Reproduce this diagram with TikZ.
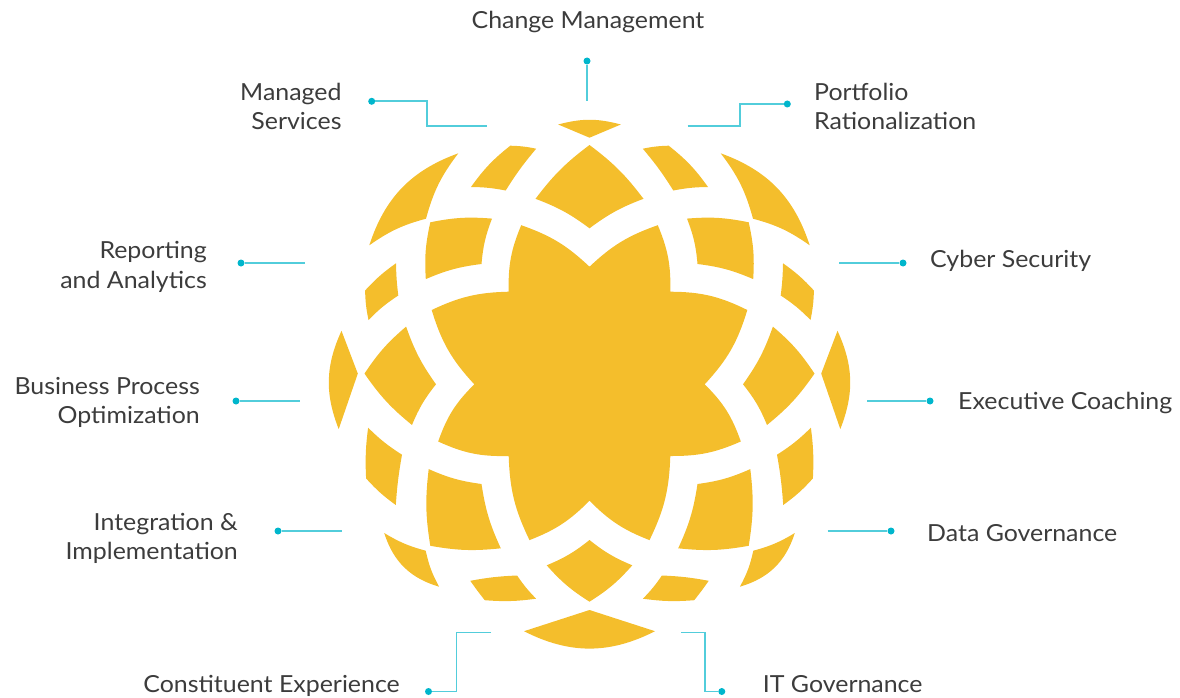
\documentclass[tikz,border=0pt]{standalone}
\usepackage{fontspec}
\setmainfont{Lato}[FakeStretch=1.06]
\definecolor{gold}{RGB}{244,190,44}
\definecolor{linec}{RGB}{82,205,219}
\definecolor{dotc}{RGB}{0,182,204}
\definecolor{txt}{RGB}{60,60,60}
\newcommand\sx{1}
\newcommand\halfpieces{%
  % outer quad near top
  \fill[gold] (\sx*-79.2,-238.1) to[cvx=5] (\sx*-53.3,-235.1) to[ccv=4] (\sx*-83.8,-193.3)
     to[ccv=5] (\sx*-118.5,-196.8) to[cvx=8] (\sx*-79.2,-238.1) -- cycle;
  % big lens upper
  \fill[gold] (\sx*-131.2,-230.5) to[ccv=11] (\sx*-163.5,-165.1) to[ccv=10] (\sx*-220.2,-138.5)
     to[cvx=26] (\sx*-131.2,-230.5) -- cycle;
  % diagonal quad upper (ring 2)
  \fill[gold] (\sx*-159.2,-161.5) to[cvx=8] (\sx*-97.5,-165.2) to[ccv=8] (\sx*-108,-119.8)
     to[ccv=8] (\sx*-163.7,-104.7) to[cvx=8] (\sx*-159.2,-161.5) -- cycle;
  % outer quad side upper
  \fill[gold] (\sx*-224.4,-93.3) to[cvx=6] (\sx*-193.5,-120.5) to[ccv=3] (\sx*-191.2,-88.3)
     to[ccv=6] (\sx*-221,-63.8) to[cvx=5] (\sx*-224.4,-93.3) -- cycle;
  % side cap
  \fill[gold] (\sx*-248,-53) -- (\sx*-231.7,-10.2) -- (\sx*-250.8,45.3)
     to[cvx=23] (\sx*-248,-53) -- cycle;
  % side diamond
  \fill[gold] (\sx*-183.4,-57.2) to[ccv=8] (\sx*-153.5,0.5) to[ccv=8] (\sx*-177.5,41.2)
     to[cvx=8] (\sx*-225,-10.2) to[cvx=8] (\sx*-183.4,-57.2) -- cycle;
  % outer quad side lower
  \fill[gold] (\sx*-221.4,43.9) to[ccv=6] (\sx*-187.5,70.9) to[ccv=3] (\sx*-193.7,121.2)
     to[cvx=6] (\sx*-223.4,94.6) to[cvx=5] (\sx*-221.4,43.9) -- cycle;
  % diagonal quad lower (ring 2)
  \fill[gold] (\sx*-160.8,85.3) to[ccv=8] (\sx*-108,100.2) to[ccv=8] (\sx*-88.7,164.5)
     to[cvx=8] (\sx*-159.2,162) to[cvx=8] (\sx*-160.8,85.3) -- cycle;
  % big lens lower
  \fill[gold] (\sx*-205.3,149.2) to[ccv=8] (\sx*-163.8,166.9) to[ccv=8] (\sx*-150.4,202.9)
     to[cvx=28] (\sx*-205.3,149.2) -- cycle;
  % outer quad near bottom
  \fill[gold] (\sx*-119.2,197) to[cvx=4] (\sx*-72.4,191.7) to[ccv=5] (\sx*-53.4,214.9)
     to[cvx=6] (\sx*-104.7,216.4) to[cvx=2] (\sx*-119.2,197) -- cycle;
}
\begin{document}
\begin{tikzpicture}[x=1pt,y=-1pt,
  cvx/.style={bend left=#1}, ccv/.style={bend right=#1},
  lbl/.style={inner sep=0pt, text=txt, font=\fontsize{23.5}{28}\selectfont},
  dot/.style={circle, fill=dotc, inner sep=0pt, minimum size=7pt},
  conn/.style={draw=linec, line width=1.6pt}]
\path[use as bounding box] (0,0) rectangle (1180,698);

% ---------- rosette ----------
\begin{scope}[shift={(589.5,383.8)}]
  \halfpieces
  \begin{scope}[cvx/.style={bend right=#1}, ccv/.style={bend left=#1}]
    \renewcommand\sx{-1}
    \halfpieces
  \end{scope}
  % top cap
  \fill[gold] (-31.3,-259.3) -- (0,-246.1) -- (31.3,-259.3) to[bend right=15] (-31.3,-259.3) -- cycle;
  % top diamond
  \fill[gold] (0,-238.8) to[cvx=8] (54,-185) to[ccv=8] (0,-155.5) to[ccv=8] (-54,-185)
     to[cvx=8] (0,-238.8) -- cycle;
  % bottom diamond
  \fill[gold] (0,156.2) to[ccv=8] (42.8,181.5) to[cvx=8] (0,217.9) to[cvx=8] (-42.8,181.5)
     to[ccv=8] (0,156.2) -- cycle;
  % bottom cap
  \fill[gold] (-65.5,247.4) -- (0,226.2) -- (65.5,247.4) to[bend left=27] (-65.5,247.4) -- cycle;
  % central star
  \fill[gold] (0,-117.1) to[cvx=12] (68.3,-158.6) to[cvx=12] (80.8,-92.1) to[cvx=13] (157.8,-73.8)
     to[cvx=13] (115.2,0.5) to[cvx=13] (151.3,57.7) to[cvx=12] (80.8,72.2) to[cvx=12] (60,156.3)
     to[cvx=12] (0,116.9) to[cvx=12] (-60,156.3) to[cvx=12] (-80.8,72.2) to[cvx=13] (-151.3,57.7)
     to[cvx=13] (-115.2,0.5) to[cvx=13] (-157.8,-73.8) to[cvx=12] (-80.8,-92.1) to[cvx=12] (-68.3,-158.6)
     to[cvx=12] (0,-117.1) -- cycle;
\end{scope}

% ---------- labels ----------
\node[lbl, anchor=base] (cm) at (588,28.3) {Change Management};
\node[lbl, anchor=base east] (ms1) at (341.7,101) {Managed};
\node[lbl, anchor=base east] (ms2) at (341.7,130) {Services};
\node[lbl, anchor=base west] (pr1) at (814,101) {Portfolio};
\node[lbl, anchor=base west] (pr2) at (814,130) {Rationalization};
\node[lbl, anchor=base east] (ra1) at (207,258) {Reporting};
\node[lbl, anchor=base east] (ra2) at (207,288) {and Analytics};
\node[lbl, anchor=base west] (cs) at (930,267) {Cyber Security};
\node[lbl, anchor=base east] (bp1) at (200,394) {Business Process};
\node[lbl, anchor=base east] (bp2) at (200,423) {Optimization};
\node[lbl, anchor=base west] (ec) at (958,409) {Executive Coaching};
\node[lbl, anchor=base east] (ii1) at (238,530) {Integration \&};
\node[lbl, anchor=base east] (ii2) at (238,559) {Implementation};
\node[lbl, anchor=base west] (dg) at (927,541) {Data Governance};
\node[lbl, anchor=base east] (ce) at (400,692) {Constituent Experience};
\node[lbl, anchor=base west] (it) at (762.7,692) {IT Governance};

% ---------- connector dots and ends ----------
\node[dot] (dcm) at (587,61) {};
\coordinate (ecm) at (587,101);
\node[dot] (dms) at (371.7,101.3) {};
\coordinate (kms) at (426.7,126);
\coordinate (ems) at (486.7,126);
\coordinate (epr) at (687.7,126);
\coordinate (kpr) at (740,126);
\node[dot] (dpr) at (787.3,104) {};
\node[dot] (dra) at (241,263) {};
\coordinate (era) at (305,263);
\coordinate (ecs) at (839,263);
\node[dot] (dcs) at (903,263) {};
\node[dot] (dbp) at (236,401) {};
\coordinate (ebp) at (300,401);
\coordinate (eec) at (867,401);
\node[dot] (dec) at (930,401) {};
\node[dot] (dii) at (278,531) {};
\coordinate (eii) at (341.7,531);
\coordinate (edg) at (827.7,531);
\node[dot] (ddg) at (891,531) {};
\coordinate (ece) at (491.2,632.3);
\coordinate (kce) at (456.5,632.3);
\node[dot] (dce) at (428.5,691.5) {};
\coordinate (eit) at (681,632.3);
\coordinate (kit) at (705,632.3);
\node[dot] (dit) at (721.8,691.5) {};

\draw[conn] (dcm) -- (ecm);
\draw[conn] (dms) -| (kms) -- (ems);
\draw[conn] (epr) -- (kpr) |- (dpr);
\draw[conn] (dra) -- (era);
\draw[conn] (ecs) -- (dcs);
\draw[conn] (dbp) -- (ebp);
\draw[conn] (eec) -- (dec);
\draw[conn] (dii) -- (eii);
\draw[conn] (edg) -- (ddg);
\draw[conn] (ece) -- (kce) |- (dce);
\draw[conn] (eit) -- (kit) |- (dit);
\end{tikzpicture}
\end{document}
